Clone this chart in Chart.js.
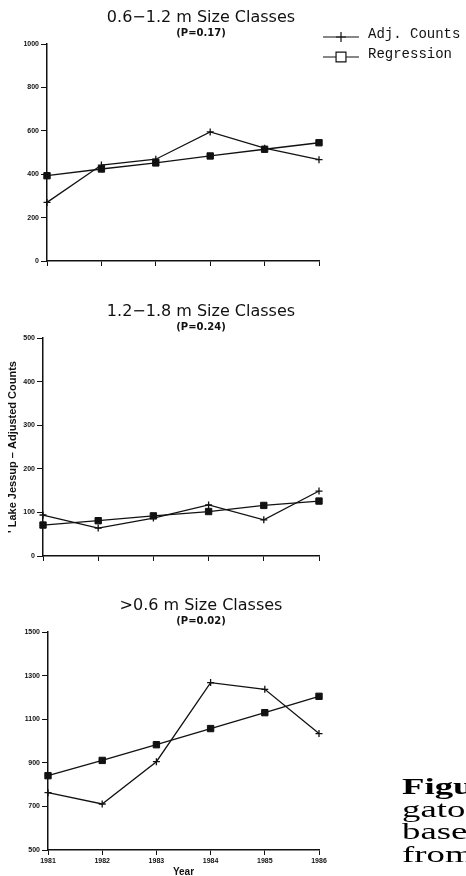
<!DOCTYPE html>
<html>
<head>
<meta charset="utf-8">
<script src="https://cdn.jsdelivr.net/npm/chart.js@4.4.1/dist/chart.umd.min.js"></script>
<style>
  html, body { margin: 0; padding: 0; background: #fff; width: 466px; height: 876px; overflow: hidden; }
  canvas { position: absolute; left: 0; }
  #c1 { top: 0; }
  #c2 { top: 290px; }
  #c3 { top: 585px; }
  #note {
    position: absolute; left: 402px; top: 776px;
    font-family: "Liberation Serif"; font-size: 23px; line-height: 22.5px;
    color: #000; white-space: nowrap;
    transform: scaleX(1.6); transform-origin: 0 0;
  }
  #note b { font-weight: bold; }
</style>
</head>
<body>
<canvas id="c1" width="466" height="290"></canvas>
<canvas id="c2" width="466" height="295"></canvas>
<canvas id="c3" width="466" height="291"></canvas>
<div id="note"><b>Figure</b><br>gators<br>based<br>from</div>

<script>
// values
const years = ["1981", "1982", "1983", "1984", "1985", "1986"];

const adjSmall = [270, 442, 469, 595, 520, 467];
const regSmall = [393, 424, 452, 484, 515, 545];
const ticksSmall = [0, 200, 400, 600, 800, 1000];

const adjMid = [94, 64, 87, 117, 83, 149];
const regMid = [71, 81, 92, 102, 116, 126];
const ticksMid = [0, 100, 200, 300, 400, 500];

const adjAll = [763, 711, 905, 1268, 1237, 1034];
const regAll = [841, 911, 983, 1057, 1130, 1205];
const ticksAll = [500, 700, 900, 1100, 1300, 1500];

const seriesNames = ["Adj. Counts", "Regression"];

const INK = "#111";
const tickFont = { family: "Liberation Sans", size: 7, weight: "bold" };

// title + P value above each panel
const headsPlugin = {
  id: "heads",
  afterDraw(chart, args, o) {
    const ctx = chart.ctx;
    const top = chart.chartArea.top;
    ctx.save();
    ctx.fillStyle = INK;
    ctx.textAlign = "center";
    ctx.textBaseline = "middle";
    ctx.font = '16px "DejaVu Sans"';
    ctx.fillText(o.title, o.x, top - 26);
    ctx.font = 'bold 10px "DejaVu Sans"';
    ctx.fillText(o.sub, o.x, top - 10.5);
    ctx.restore();
  }
};

// line + marker key, top right
const keyPlugin = {
  id: "key",
  afterDraw(chart, args, o) {
    if (!o.show) return;
    const ctx = chart.ctx;
    chart.data.datasets.forEach((ds, i) => {
      const y = o.y + i * o.gap;
      ctx.save();
      ctx.strokeStyle = INK;
      ctx.fillStyle = "#fff";
      ctx.lineWidth = 1.2;
      ctx.beginPath();
      ctx.moveTo(o.x, y + 1);
      ctx.lineTo(o.x + o.len, y + 1);
      ctx.stroke();
      Chart.helpers.drawPoint(ctx, {
        pointStyle: ds.pointStyle,
        radius: ds.pointStyle === "rect" ? 7 : 5,
        borderWidth: 1.2
      }, o.x + o.len / 2, y + 1);
      ctx.fillStyle = INK;
      ctx.font = '14px "Liberation Mono"';
      ctx.textAlign = "left";
      ctx.textBaseline = "middle";
      ctx.fillText(ds.label, o.x + o.len + 9, y - 2);
      ctx.restore();
    });
  }
};

function makePanel(id, adj, reg, yTicks, opts) {
  const xTitle = opts.xLabels
    ? { display: true, text: "Year", color: INK, padding: 0,
        font: { family: "Liberation Sans", size: 10, weight: "bold", lineHeight: 0.66 } }
    : { display: false };
  const yTitle = opts.yTitle
    ? { display: true, text: opts.yTitle, color: INK, padding: { top: 6, bottom: 0 },
        font: { family: "Liberation Sans", size: 11, weight: "bold" } }
    : { display: false };

  return new Chart(document.getElementById(id), {
    type: "line",
    data: {
      labels: years,
      datasets: [
        {
          label: seriesNames[0],
          data: adj,
          borderColor: INK,
          borderWidth: 1.3,
          pointStyle: "cross",
          pointRadius: 3.5,
          pointBorderColor: INK,
          pointBorderWidth: 1.3,
          tension: 0,
          clip: false
        },
        {
          label: seriesNames[1],
          data: reg,
          borderColor: INK,
          borderWidth: 1.3,
          pointStyle: "rect",
          pointRadius: 4.5,
          pointBackgroundColor: INK,
          pointBorderColor: INK,
          pointBorderWidth: 1,
          tension: 0,
          clip: false
        }
      ]
    },
    options: {
      responsive: false,
      animation: false,
      events: [],
      layout: { padding: { top: opts.top, right: 147, left: 0, bottom: 0 } },
      plugins: {
        legend: { display: false },
        tooltip: { enabled: false },
        heads: { title: opts.title, sub: opts.sub, x: 201 },
        key: { show: !!opts.key, x: 323, y: 36, gap: 20, len: 36 }
      },
      scales: {
        x: {
          type: "category",
          offset: false,
          grid: { display: true, drawOnChartArea: false, drawTicks: true, tickLength: 5, color: INK, lineWidth: 1 },
          border: { display: true, color: INK, width: 1.5 },
          ticks: { display: !!opts.xLabels, color: INK, font: tickFont, padding: 2, maxRotation: 0, autoSkip: false },
          title: xTitle,
          afterFit: s => { s.height = opts.bottom; }
        },
        y: {
          min: yTicks[0],
          max: yTicks[yTicks.length - 1],
          grid: { display: true, drawOnChartArea: false, drawTicks: true, tickLength: 6, color: INK, lineWidth: 1 },
          border: { display: true, color: INK, width: 1.5 },
          ticks: { stepSize: yTicks[1] - yTicks[0], color: INK, font: tickFont, padding: 2, callback: v => String(v) },
          title: yTitle,
          afterFit: s => { s.width = opts.left; }
        }
      }
    },
    plugins: [headsPlugin, keyPlugin]
  });
}

makePanel("c1", adjSmall, regSmall, ticksSmall, {
  title: "0.6\u22121.2 m Size Classes", sub: "(P=0.17)",
  top: 44, bottom: 29, left: 47, key: true
});

makePanel("c2", adjMid, regMid, ticksMid, {
  title: "1.2\u22121.8 m Size Classes", sub: "(P=0.24)",
  top: 48, bottom: 29, left: 43,
  yTitle: "' Lake Jessup \u2013 Adjusted Counts"
});

makePanel("c3", adjAll, regAll, ticksAll, {
  title: ">0.6 m Size Classes", sub: "(P=0.02)",
  top: 47, bottom: 26, left: 48, xLabels: true
});
</script>
</body>
</html>
